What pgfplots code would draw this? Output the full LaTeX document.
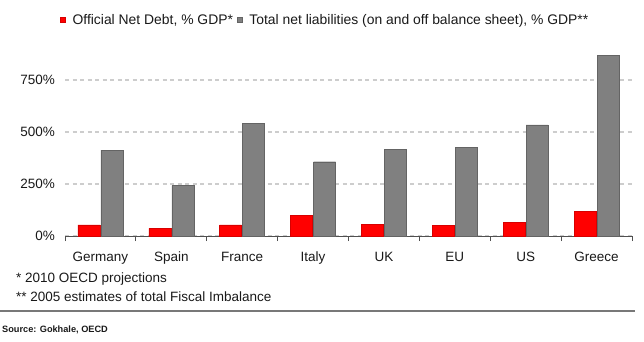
\documentclass[border=0pt]{standalone}
\usepackage{fontspec}
\setmainfont{Liberation Sans}
\usepackage{pgfplots}
\pgfplotsset{compat=1.18}
\definecolor{barred}{RGB}{255,0,0}
\definecolor{barredd}{RGB}{215,0,0}
\definecolor{bargray}{RGB}{128,128,128}
\definecolor{bargrayd}{RGB}{100,100,100}
\definecolor{gridc}{RGB}{205,205,205}
\definecolor{axc}{RGB}{80,80,80}
\definecolor{txt}{RGB}{25,25,25}
\definecolor{rulec}{RGB}{120,120,120}
\newcommand{\mainsize}{\fontsize{13.5bp}{16bp}\selectfont}
\newcommand{\legsize}{\fontsize{13.9bp}{16bp}\selectfont}
\begin{document}
\begin{tikzpicture}[x=1bp,y=1bp]
\useasboundingbox (0,0) rectangle (644,341);
\begin{axis}[
  at={(65bp,105bp)}, anchor=south west,
  scale only axis, width=567bp, height=187.2bp,
  xmin=-0.5, xmax=7.5, ymin=0, ymax=900,
  axis x line*=bottom, axis y line*=left,
  y axis line style={draw=none},
  x axis line style={draw=axc, line width=0.9bp, -},
  xtick={0,...,7},
  xticklabels={Germany,Spain,France,Italy,UK,EU,US,Greece},
  minor xtick={-0.5,0.5,...,7.5},
  major tick length=0bp, minor tick length=5bp,
  tick align=outside,
  major x tick style={draw=none},
  minor x tick style={draw=axc, line width=0.9bp},
  ytick={0,250,500,750},
  y tick style={draw=none},
  yticklabel={\pgfmathprintnumber{\tick}\%},
  /pgf/number format/assume math mode=true,
  ymajorgrids,
  grid style={draw=gridc, line width=1.1bp, dash pattern=on 4bp off 3.5bp},
  ticklabel style={font=\mainsize, text=txt},
  xticklabel style={inner sep=0pt, text height=10bp, text depth=3bp, yshift=-15bp},
  yticklabel style={inner sep=0pt, xshift=-10bp},
  legend style={at={(-0.00882,1.1538)}, anchor=west, draw=none, fill=none,
    inner sep=0pt, font=\legsize, text=txt, nodes={inner sep=0pt},
    /tikz/every odd column/.style={column sep=7bp},
    /tikz/every even column/.style={column sep=4bp}},
  legend columns=2,
  legend image code/.code={\fill[#1] (0bp,-2.5bp) rectangle (5bp,2.5bp);},
]
\addplot[ybar, bar width=22bp, bar shift=-11.5bp, fill=barred, draw=barredd, line width=0.4bp]
  coordinates {(0,53) (1,37) (2,53) (3,98) (4,56) (5,51) (6,64) (7,119)};
\addlegendentry{Official Net Debt, \% GDP*}
\addplot[ybar, bar width=22bp, bar shift=11.5bp, fill=bargray, draw=bargrayd, line width=0.4bp]
  coordinates {(0,413) (1,242) (2,542) (3,357) (4,417) (5,426) (6,534) (7,870)};
\addlegendentry{Total net liabilities (on and off balance sheet), \% GDP**}
\end{axis}
\node[anchor=base west, inner sep=0pt, font=\mainsize, text=txt] at (16,58.3) {* 2010 OECD projections};
\node[anchor=base west, inner sep=0pt, font=\mainsize, text=txt] at (16,39.3) {** 2005 estimates of total Fiscal Imbalance};
\draw[line width=1.3bp, rulec] (0,30) -- (635,30);
\node[anchor=base west, inner sep=0pt, font=\bfseries\fontsize{9.2bp}{11bp}\selectfont, text=txt] at (2,8.3) {Source: Gokhale, OECD};
\end{tikzpicture}
\end{document}
